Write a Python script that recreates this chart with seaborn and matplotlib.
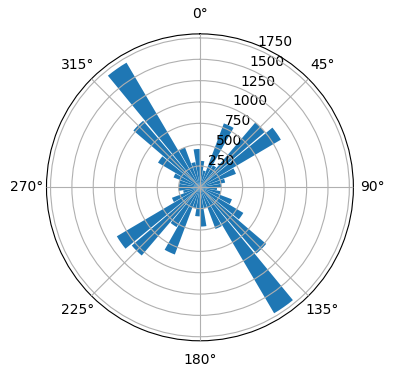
import numpy as np
import pandas as pd
import matplotlib
matplotlib.use("Agg")
import matplotlib.pyplot as plt
import seaborn as sns

plt.rcParams['font.family'] = ['DejaVu Sans']

directions_deg = [5, 15, 25, 35, 45, 55, 65, 75, 85, 95, 105, 115,
                  125, 135, 145, 155, 165, 175, 185, 195, 205, 215, 225, 235,
                  245, 255, 265, 275, 285, 295, 305, 315, 325, 335, 345, 355]
counts = [310, 200, 800, 300, 1000, 1100, 450, 300, 250, 200, 250, 400,
          590, 1020, 1712, 520, 250, 460, 340, 250, 840, 540, 1050, 1130,
          350, 200, 250, 245, 250, 330, 570, 1025, 1695, 500, 300, 450]
radial_ticks = [250, 500, 750, 1000, 1250, 1500, 1750]

df = pd.DataFrame({"theta": np.deg2rad(directions_deg), "count": counts})

fig = plt.figure(figsize=(3.96, 3.8), dpi=100)
ax = fig.add_axes([0.1174, 0.103, 0.775, 0.808], projection="polar")
ax.set_theta_zero_location("N")
ax.set_theta_direction(-1)

sns.barplot(data=df, x="theta", y="count", native_scale=True, width=0.9,
            color="#1f77b4", saturation=1, errorbar=None, ax=ax,
            linewidth=0, edgecolor="none")

ax.set_xlabel("")
ax.set_ylabel("")
ax.set_thetagrids(np.arange(0, 360, 45), [f"{a}°" for a in range(0, 360, 45)])
ax.set_ylim(0, max(counts) * 1.05)
ax.set_rticks(radial_ticks)
ax.set_rlabel_position(22.5)
ax.tick_params(colors="black", labelcolor="black")
ax.grid(True, color="#b0b0b0", linewidth=0.8)
ax.set_axisbelow(False)
for s in ax.spines.values():
    s.set_visible(True)
    s.set_color("black")

fig.savefig("out.png", dpi=100)
